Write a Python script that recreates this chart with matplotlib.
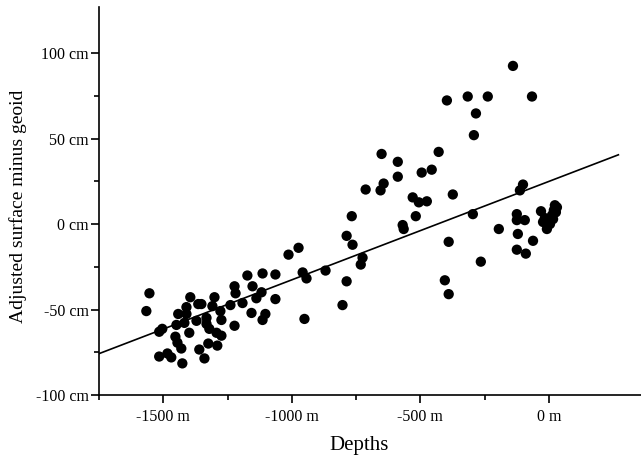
import numpy as np
import matplotlib
matplotlib.use('Agg')
import matplotlib.pyplot as plt
from matplotlib.ticker import FixedLocator, FuncFormatter

# Depth (m) and adjusted surface minus geoid (cm)
depths = [-1554, -1566, -1504, -1516, -1395, -1364, -1410, -1442, -1410, -1371,
          -1418, -1449, -1399, -1453, -1445, -1430, -1516, -1484, -1469, -1426,
          -1360, -1340, -1325, -1290, -1301, -1309, -1278, -1274, -1332, -1332,
          -1321, -1293, -1274, -1352, -1239, -1223, -1219, -1223, -1192, -1173,
          -1153, -1138, -1118, -1114, -1157, -1103, -1114, -1064, -1064, -1013,
          -974, -958, -943, -869, -787, -803, -951,
          -767, -787, -764, -725, -732, -713, -655, -643, -588, -651,
          -588, -495, -456, -429, -530, -506, -475, -374, -518, -569,
          -565, -296, -390, -265, -405, -390,
          -397, -316, -238, -284, -292, -140, -66, -101, -113,
          -195, -125, -125, -94, -121, -62, -125, -90, -31, 23,
          19, 12, 0, -16, -23, -8, 27, 16, 4, 31]
heights = [-40.5, -50.9, -61.3, -63.0, -42.8, -46.8, -48.6, -52.6, -52.6, -56.6,
           -57.8, -59.0, -63.6, -65.9, -69.4, -72.8, -77.5, -75.7, -78.0, -81.5,
           -73.4, -78.6, -69.9, -71.1, -42.8, -48.0, -50.9, -56.1, -54.9, -58.4,
           -61.3, -63.6, -65.3, -46.8, -47.4, -36.4, -40.5, -59.5, -46.2, -30.1,
           -36.4, -43.4, -39.9, -28.9, -52.0, -52.6, -56.1, -43.9, -29.5, -17.9,
           -13.9, -28.3, -31.8, -27.2, -33.5, -47.4, -55.5,
           4.6, -6.9, -12.1, -19.7, -23.7, 20.2, 19.7, 23.7, 27.7, 41.0,
           36.4, 30.1, 31.8, 42.2, 15.6, 12.7, 13.3, 17.3, 4.6, -0.6,
           -2.9, 5.8, -10.4, -22.0, -32.9, -41.0,
           72.3, 74.6, 74.6, 64.7, 52.0, 92.5, 74.6, 23.1, 19.7,
           -2.9, 5.8, 2.3, 2.3, -5.8, -9.8, -15.0, -17.3, 7.5, 11.0,
           8.1, 5.2, 2.9, 3.5, 1.2, -2.9, 6.9, 2.9, 0.0, 9.8]

# Trend line end points
fit_x = [-1750, 270]
fit_y = [-75.8, 40.5]

x_major = [-1500, -1000, -500, 0]
x_minor = [-1750, -1250, -750, -250]
y_major = [-100, -50, 0, 50, 100]
y_minor = [-75, -25, 25, 75]

plt.rcParams['font.family'] = ['Liberation Serif', 'DejaVu Serif']

fig = plt.figure(figsize=(6.41, 4.62), dpi=100)
ax = fig.add_axes([0.1545, 0.145, 0.8455, 0.84])

ax.scatter(depths, heights, s=55, color='black', edgecolors='none', zorder=3)
ax.plot(fit_x, fit_y, color='black', linewidth=1.2, zorder=2)

ax.set_xlim(-1750, 358)
ax.set_ylim(-100, 127)

# Only left and bottom axes
ax.spines['right'].set_visible(False)
ax.spines['top'].set_visible(False)
ax.spines['left'].set_linewidth(1.2)
ax.spines['bottom'].set_linewidth(1.2)

ax.xaxis.set_major_locator(FixedLocator(x_major))
ax.xaxis.set_minor_locator(FixedLocator(x_minor))
ax.yaxis.set_major_locator(FixedLocator(y_major))
ax.yaxis.set_minor_locator(FixedLocator(y_minor))
ax.xaxis.set_major_formatter(FuncFormatter(lambda v, p: '%d m' % v))
ax.yaxis.set_major_formatter(FuncFormatter(lambda v, p: '%d cm' % v))

ax.tick_params(which='major', direction='out', length=6, width=1.2,
               labelsize=11.5, colors='black')
ax.tick_params(which='minor', direction='out', length=3.5, width=1.2)
ax.tick_params(axis='x', which='major', pad=4)
ax.tick_params(axis='y', which='major', pad=1.5)

ax.set_xlabel('Depths', fontsize=15)
ax.set_ylabel('Adjusted surface minus geoid', fontsize=14)
ax.xaxis.set_label_coords(0.48, -0.105)
ax.yaxis.set_label_coords(-0.133, 0.487)

plt.savefig('out.png', dpi=100)
